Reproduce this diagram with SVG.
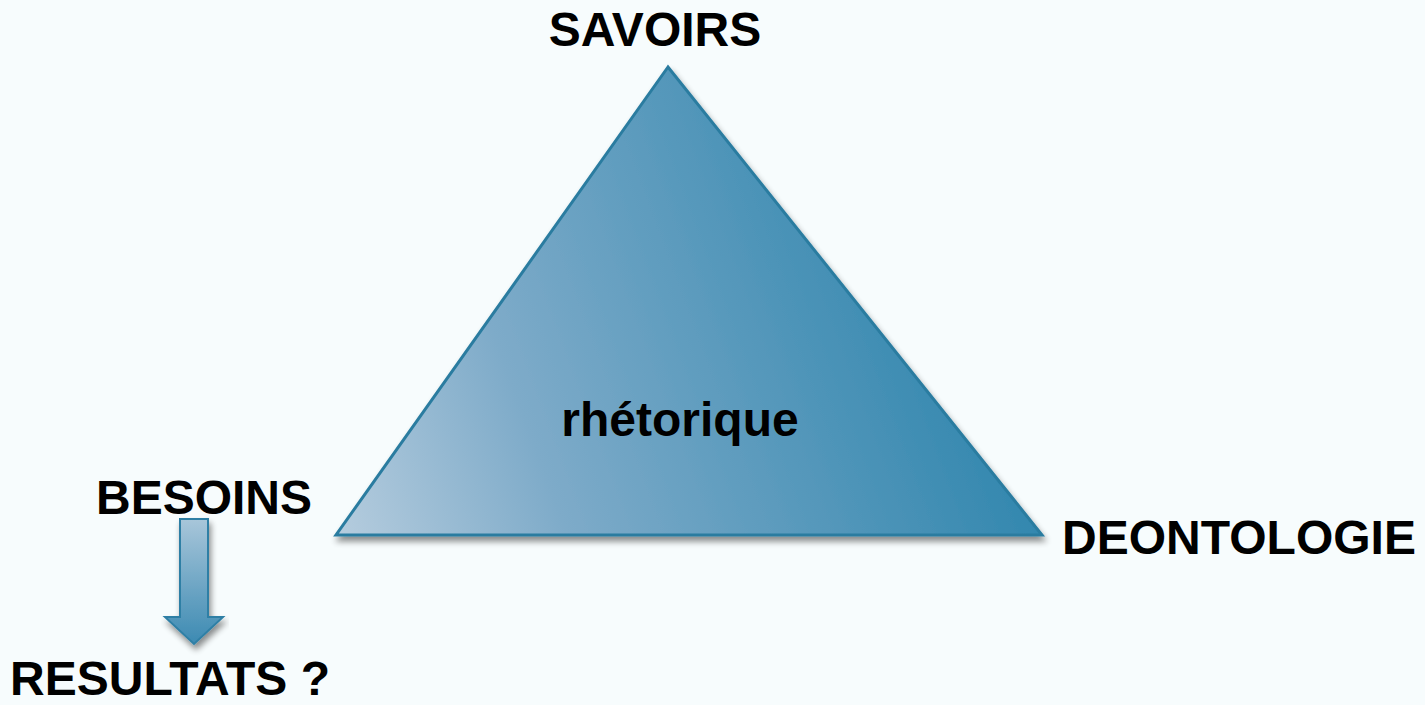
<svg xmlns="http://www.w3.org/2000/svg" width="1425" height="705" viewBox="0 0 1425 705">
<defs>
<linearGradient id="tri" x1="336" y1="560" x2="1042" y2="300" gradientUnits="userSpaceOnUse">
<stop offset="0" stop-color="#b8cedf"/>
<stop offset="0.3" stop-color="#7eabc9"/>
<stop offset="1" stop-color="#2581aa"/>
</linearGradient>
<linearGradient id="arr" x1="0" y1="0" x2="0" y2="1">
<stop offset="0" stop-color="#a8c6da"/>
<stop offset="1" stop-color="#3c8ab2"/>
</linearGradient>
<filter id="sh" x="-10%" y="-10%" width="120%" height="130%">
<feGaussianBlur in="SourceAlpha" stdDeviation="3"/>
<feOffset dx="2" dy="5" result="b"/>
<feComponentTransfer><feFuncA type="linear" slope="0.45"/></feComponentTransfer>
<feMerge><feMergeNode/><feMergeNode in="SourceGraphic"/></feMerge>
</filter>
<style>
.t{font-family:"Liberation Sans",Arial,sans-serif;font-weight:bold;font-size:48px;fill:#000}
</style>
</defs>
<rect width="1425" height="705" fill="#f7fcfd"/>
<g id="triangle" filter="url(#sh)">
<polygon points="668,67 336,535 1042,535" fill="url(#tri)" stroke="#2a7ca0" stroke-width="3" stroke-linejoin="miter"/>
</g>
<g id="savoirs"><text class="t" x="655" y="46" text-anchor="middle">SAVOIRS</text></g>
<g id="rhetorique"><text class="t" x="680" y="436" text-anchor="middle">rhétorique</text></g>
<g id="besoins"><text class="t" x="204" y="514" text-anchor="middle">BESOINS</text></g>
<g id="deontologie"><text class="t" x="1239" y="554" text-anchor="middle">DEONTOLOGIE</text></g>
<g id="resultats"><text class="t" x="170" y="695" text-anchor="middle">RESULTATS ?</text></g>
<g id="connectors">
<polygon points="180,519 208,519 208,617 223,617 194,644 165,617 180,617" fill="url(#arr)" stroke="#2f7fa5" stroke-width="2" filter="url(#sh)"/>
</g>
</svg>
